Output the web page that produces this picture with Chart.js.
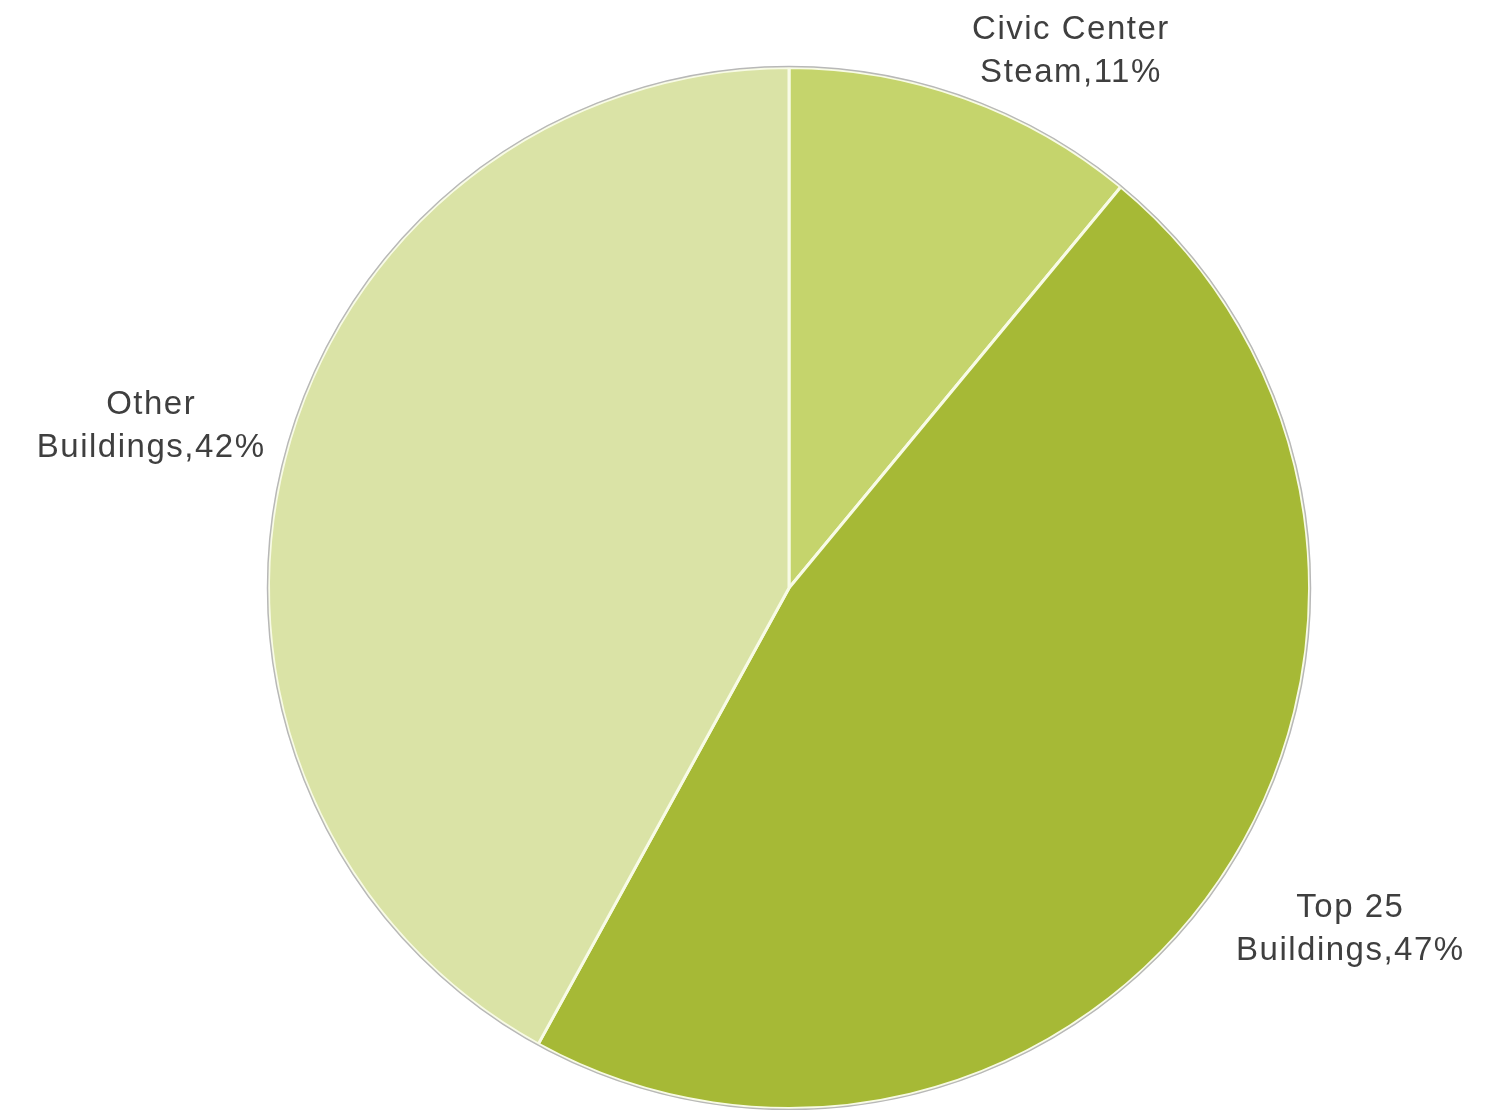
<!DOCTYPE html>
<html>
<head>
<meta charset="utf-8">
<script src="https://cdn.jsdelivr.net/npm/chart.js@4"></script>
<style>
  html, body { margin: 0; padding: 0; background: #fff; }
  #wrap { width: 1511px; height: 1110px; position: relative; }
</style>
</head>
<body>
<div id="wrap"><canvas id="pieChart"></canvas></div>
<script>
const labelLines = [['Civic Center', 'Steam'], ['Top 25', 'Buildings'], ['Other', 'Buildings']];
const shares = [11, 47, 42];
const sliceColors = ['#c5d46c', '#a6b936', '#dae3a6'];

// Outside labels placed off each slice's mid angle, Excel style
const outsideLabels = {
  id: 'outsideLabels',
  afterDatasetsDraw(chart) {
    const ctx = chart.ctx;
    const meta = chart.getDatasetMeta(0);
    ctx.save();
    ctx.font = '33px "Liberation Sans", Arial, sans-serif';
    ctx.letterSpacing = '1.5px';
    ctx.fillStyle = '#3f3f3f';
    ctx.textAlign = 'center';
    ctx.textBaseline = 'alphabetic';
    const lineH = 43;
    meta.data.forEach((arc, i) => {
      const p = arc.getProps(['x', 'y', 'startAngle', 'endAngle', 'outerRadius'], true);
      const mid = (p.startAngle + p.endAngle) / 2;
      const r = p.outerRadius + 20;
      const px = p.x + Math.cos(mid) * r;
      const py = p.y + Math.sin(mid) * r;
      const lines = [labelLines[i][0], labelLines[i][1] + ',' + shares[i] + '%'];
      const w = Math.max(...lines.map(l => ctx.measureText(l).width));
      const left = Math.cos(mid) >= 0 ? px : px - w;
      // first baseline
      const base = Math.sin(mid) < 0 ? py + 3 - (lines.length - 1) * lineH : py + 25;
      lines.forEach((l, k) => {
        ctx.fillText(l, left + w / 2, base + k * lineH);
      });
    });
    ctx.restore();
  }
};

// thin grey rim round the pie
const rim = {
  id: 'rim',
  afterDatasetsDraw(chart) {
    const arc = chart.getDatasetMeta(0).data[0];
    if (!arc) return;
    const ctx = chart.ctx;
    ctx.save();
    ctx.strokeStyle = '#b8b8b8';
    ctx.lineWidth = 1.5;
    ctx.beginPath();
    ctx.arc(arc.x, arc.y, arc.outerRadius + 1, 0, Math.PI * 2);
    ctx.stroke();
    ctx.restore();
  }
};

new Chart(document.getElementById('pieChart').getContext('2d'), {
  type: 'pie',
  data: {
    labels: labelLines.map(l => l.join(' ')),
    datasets: [{
      data: shares,
      backgroundColor: sliceColors,
      borderColor: '#f8fbe6',
      borderWidth: 3
    }]
  },
  options: {
    responsive: true,
    maintainAspectRatio: false,
    animation: false,
    layout: { padding: { top: 66, bottom: 0, left: 267, right: 200 } },
    plugins: { legend: { display: false }, tooltip: { enabled: false } }
  },
  plugins: [rim, outsideLabels]
});
</script>
</body>
</html>
